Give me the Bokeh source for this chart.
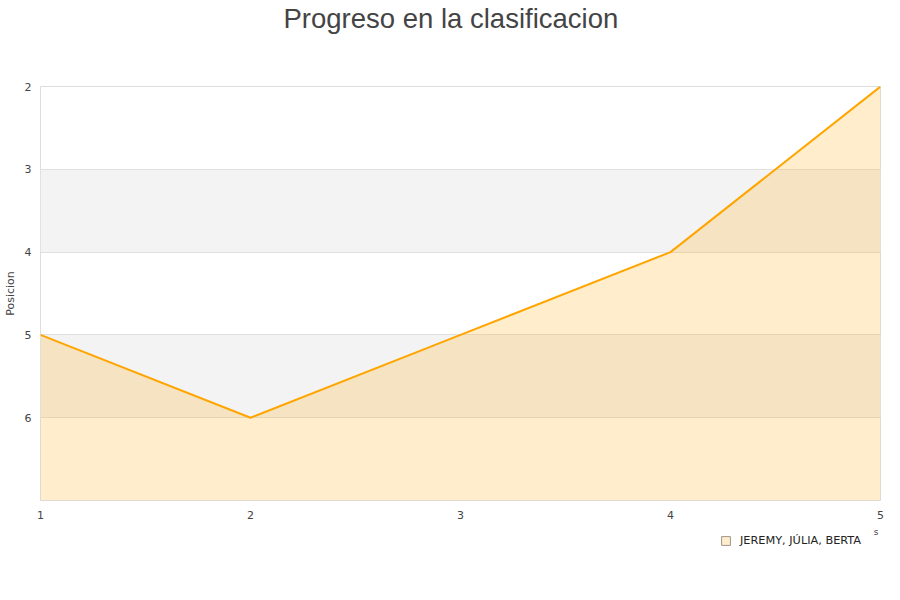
from bokeh.plotting import figure
from bokeh.models import Legend, LegendItem, FixedTicker, Range1d, ColumnDataSource, Title, Label
from bokeh.layouts import column
from bokeh.embed import file_html
from bokeh.resources import INLINE

# Data
jornadas = [1, 2, 3, 4, 5]
posicion = [5, 6, 5, 4, 2]
serie = "JEREMY, JÚLIA, BERTA"
y_ticks = [2, 3, 4, 5, 6, 7]
y_labels = {2: "2", 3: "3", 4: "4", 5: "5", 6: "6", 7: ""}
x_ticks = [1, 2, 3, 4, 5]
x_title_fragment = "s"
base = 7

p = figure(width=884, height=523, output_backend="svg", toolbar_location=None,
           x_range=Range1d(1, 5), y_range=Range1d(7, 2),
           min_border_left=40, min_border_right=4, min_border_top=86, min_border_bottom=23,
           title="Progreso en la clasificacion")

p.title.text_font = "Liberation Sans"
p.title.text_font_size = "27.5px"
p.title.text_font_style = "normal"
p.title.text_color = "#444444"
p.title.align = "left"
p.title.vertical_align = "bottom"
p.title.offset = 243
p.title.standoff = 0

# spacer between title and plot area
p.add_layout(Title(text=" ", text_font_size="10px", standoff=40), "above")

p.outline_line_color = "#dddddd"
p.background_fill_color = "white"
p.border_fill_color = "white"

src = ColumnDataSource(dict(x=jornadas, y=posicion, b=[base] * len(jornadas)))
area = p.varea(x="x", y1="y", y2="b", source=src, fill_color="orange", fill_alpha=0.2)
line = p.line(x="x", y="y", source=src, line_color="orange", line_width=2)

for ax in (p.xaxis, p.yaxis):
    ax.major_tick_line_color = None
    ax.minor_tick_line_color = None
    ax.major_tick_out = 0
    ax.major_tick_in = 0
    ax.minor_tick_out = 0
    ax.axis_line_color = None
    ax.major_label_text_font = "DejaVu Sans"
    ax.major_label_text_font_size = "11px"
    ax.major_label_text_color = "#444444"

p.yaxis.ticker = FixedTicker(ticks=y_ticks)
p.yaxis.major_label_overrides = y_labels
p.yaxis.major_label_standoff = 9
p.yaxis.axis_label = "Posicion"
p.yaxis.axis_label_text_font = "DejaVu Sans"
p.yaxis.axis_label_text_font_size = "11px"
p.yaxis.axis_label_text_font_style = "normal"
p.yaxis.axis_label_text_color = "#444444"
p.yaxis.axis_label_standoff = 5

p.xaxis.ticker = FixedTicker(ticks=x_ticks)
p.xaxis.major_label_standoff = 10

p.xgrid.grid_line_color = None
p.ygrid.ticker = FixedTicker(ticks=y_ticks)
p.ygrid.grid_line_color = "#e0e0e0"
p.ygrid.band_fill_color = "#f3f3f3"
p.ygrid.band_fill_alpha = 1.0

# legend strip below the chart
lg = figure(width=884, height=61, output_backend="svg", toolbar_location=None,
            x_axis_type=None, y_axis_type=None, min_border=0,
            x_range=Range1d(0, 1), y_range=Range1d(0, 1))
lg.outline_line_color = None
lg.grid.visible = False
key = lg.quad(left="x", right="x", top="y", bottom="b", source=src, visible=False,
              fill_color="#ffedcc", line_color="#a0968a")
legend = Legend(items=[LegendItem(label=serie, renderers=[key])], location=(680, 37),
                padding=0, margin=0, glyph_width=11, glyph_height=11, label_standoff=9,
                label_text_font="DejaVu Sans", label_text_font_size="11.3px",
                label_text_color="#222222", background_fill_alpha=0, border_line_color=None)
lg.add_layout(legend, "center")
lg.add_layout(Label(x=838, y=53, x_units="screen", y_units="screen", text=x_title_fragment,
                    text_align="right", text_baseline="alphabetic",
                    text_font="DejaVu Sans", text_font_size="9px", text_color="#444444"))

open("out.html", "w").write(file_html(column(p, lg, spacing=0), INLINE))
